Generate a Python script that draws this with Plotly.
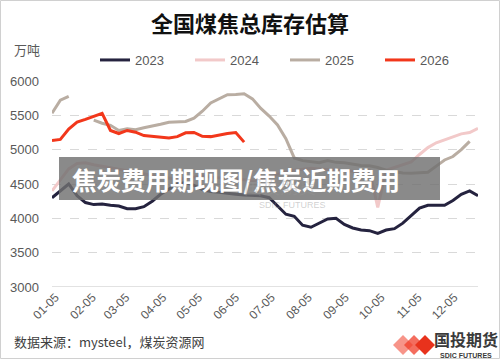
import plotly.graph_objects as go
import pandas as pd

# ---------------- data ----------------
week_start = "2023-01-02"
tick_dates = ["2023-%02d-05" % m for m in range(1, 13)]
tick_labels = ["%02d-05" % m for m in range(1, 13)]

s2023 = [4300, 4400, 4500, 4330, 4230, 4200, 4210, 4190, 4180, 4140,
         4140, 4170, 4250, 4350, 4430, 4500, 4520, 4480, 4420, 4390,
         4380, 4360, 4350, 4340, 4330, 4330, 4300, 4180, 4060, 4030,
         3900, 3870, 3930, 3990, 4000, 3910, 3860, 3830, 3820, 3780,
         3830, 3850, 3930, 4040, 4150, 4190, 4190, 4190, 4260, 4350,
         4400, 4330]
s2024 = [4400, 4560, 4720, 4800, 4810, 4780, 4760, 4740, 4720, 4700,
         4680, 4650, 4620, 4600, 4580, 4570, 4580, 4600, 4620, 4600,
         4590, 4580, 4560, 4560, 4550, 4560, 4600, 4640, 4680, 4700,
         4720, 4730, 4720, 4710, 4700, 4700, 4690, 4680, 4700, 4160,
         4700, 4740, 4780, 4820, 4930, 5030, 5100, 5140, 5190, 5230,
         5250, 5310]
s2025 = [5530, 5720, 5775, None, None, 5430, 5385, 5355, 5280, 5305,
         5290, 5320, 5340, 5370, 5400, 5410, 5410, 5460, 5560, 5680,
         5740, 5800, 5805, 5815, 5740, 5600, 5490, 5360, 5160, 4880,
         4840, 4820, 4810, 4840, 4815, 4810, 4785, 4770, 4765, 4740,
         4700, 4680, 4660, 4655, 4665, 4670, 4760, 4850, 4900, 5000,
         5120]
s2026 = [5135, 5150, 5300, 5400, 5440, 5490, 5530, 5280, 5235, 5280,
         5255, 5205, 5190, 5180, 5170, 5190, 5245, 5250, 5195, 5190,
         5215, 5235, 5250, 5110]

series = [("2023", s2023, "#25233f"),
          ("2024", s2024, "#f2c9c9"),
          ("2025", s2025, "#b9ada2"),
          ("2026", s2026, "#f2371b")]

weeks = pd.date_range(week_start, periods=52, freq="7D")

# ---------------- layout geometry ----------------
W, H = 500, 359
L, R, T, B = 52, 22, 81, 72
PW, PH = W - L - R, H - T - B


def px(x):
    return (x - L) / PW


def py(y):
    return (H - B - y) / PH


fig = go.Figure()
for name, vals, col in series:
    fig.add_trace(go.Scatter(
        x=weeks[:len(vals)], y=vals, name=name, mode="lines",
        line=dict(color=col, width=3), connectgaps=False,
    ))

fig.update_layout(
    width=W, height=H,
    margin=dict(l=L, r=R, t=T, b=B, autoexpand=False),
    paper_bgcolor="white", plot_bgcolor="white",
    showlegend=True,
    legend=dict(orientation="h", xref="container", yref="container",
                x=95 / W, y=1 - 60 / H, xanchor="left", yanchor="middle",
                font=dict(family="Liberation Sans, Arial", size=13, color="#595959"),
                entrywidth=50, entrywidthmode="pixels", bgcolor="rgba(0,0,0,0)",
                itemwidth=30, borderwidth=0),
    xaxis=dict(type="date", range=[weeks[0], weeks[-1]],
               tickvals=tick_dates, ticktext=tick_labels, tickangle=-45,
               tickfont=dict(family="Liberation Sans, Arial", size=12, color="#595959"),
               showgrid=False, showline=False, zeroline=False, ticks="", automargin=False),
    yaxis=dict(range=[3000, 6000], dtick=500, tickformat="d",
               tickfont=dict(family="Liberation Sans, Arial", size=13, color="#595959"),
               showgrid=True, gridcolor="#d9d9d9", griddash="dash", gridwidth=1,
               zeroline=False, showline=False, ticks="", ticklabelstandoff=12, automargin=False),
    font=dict(family="Noto Sans CJK SC"),
)

shapes = []
# solid baseline at 3000
shapes.append(dict(type="line", xref="paper", yref="y", x0=0, x1=1, y0=3000, y1=3000,
                   line=dict(color="#d9d9d9", width=1.5), layer="below"))
# outer frame
shapes.append(dict(type="rect", xref="paper", yref="paper", x0=px(0.5), x1=px(W - 0.5),
                   y0=py(H - 0.5), y1=py(0.5), line=dict(color="#d0d0d0", width=1)))
# overlay banner
shapes.append(dict(type="rect", xref="paper", yref="paper", x0=px(59), x1=px(440),
                   y0=py(200), y1=py(157), fillcolor="rgba(112,112,112,0.82)",
                   line=dict(width=0), layer="above"))
# logo diamonds (bottom right)
for cx, col in [(403, "rgba(240,60,40,0.55)"), (414, "rgba(240,60,40,0.75)"), (425, "#e8321c")]:
    cy, r = 345, 10
    path = "M %f %f L %f %f L %f %f L %f %f Z" % (
        px(cx - r), py(cy), px(cx), py(cy - r), px(cx + r), py(cy), px(cx), py(cy + r))
    shapes.append(dict(type="path", xref="paper", yref="paper", path=path,
                       fillcolor=col, line=dict(width=0)))
fig.update_layout(shapes=shapes)

ann = []
ann.append(dict(text="<b>全国煤焦总库存估算</b>", x=px(250), y=py(22), xref="paper", yref="paper",
                showarrow=False, xanchor="center", yanchor="middle",
                font=dict(family="Noto Sans CJK SC", size=22, color="#111111")))
ann.append(dict(text="万吨", x=px(12), y=py(49), xref="paper", yref="paper",
                showarrow=False, xanchor="left", yanchor="middle",
                font=dict(family="Noto Sans CJK SC", size=13, color="#595959")))
ann.append(dict(text="数据来源：mysteel，煤炭资源网", x=px(12), y=py(341), xref="paper", yref="paper",
                showarrow=False, xanchor="left", yanchor="middle",
                font=dict(family="Noto Sans CJK SC", size=13, color="#404040")))
ann.append(dict(text="<b>焦炭费用期现图/焦炭近期费用</b>", x=px(70), y=py(179), xref="paper", yref="paper",
                showarrow=False, xanchor="left", yanchor="middle",
                font=dict(family="Noto Sans CJK SC", size=24.5, color="white")))
# faint watermark in the middle
ann.append(dict(text="国投期货", x=px(280), y=py(186), xref="paper", yref="paper",
                showarrow=False, xanchor="center", yanchor="middle",
                font=dict(family="Noto Sans CJK SC", size=18, color="rgba(150,150,150,0.35)")))
ann.append(dict(text="SDIC FUTURES", x=px(292), y=py(205), xref="paper", yref="paper",
                showarrow=False, xanchor="center", yanchor="middle",
                font=dict(family="Liberation Sans", size=9, color="rgba(150,150,150,0.45)")))
# bottom-right logo text
ann.append(dict(text="<b>国投期货</b>", x=px(466), y=py(339), xref="paper", yref="paper",
                showarrow=False, xanchor="center", yanchor="middle",
                font=dict(family="Noto Sans CJK SC", size=16, color="#3a3a3a")))
ann.append(dict(text="<b>SDIC FUTURES</b>", x=px(466), y=py(355), xref="paper", yref="paper",
                showarrow=False, xanchor="center", yanchor="middle",
                font=dict(family="Liberation Sans", size=7, color="#3a3a3a")))
fig.update_layout(annotations=ann)

fig.write_html("out.html")
